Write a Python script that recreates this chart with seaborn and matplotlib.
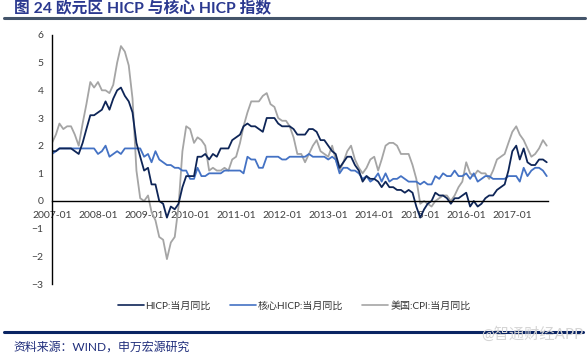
import numpy as np
import pandas as pd
import seaborn as sns
import matplotlib.pyplot as plt
import matplotlib.dates as mdates
from matplotlib.lines import Line2D

# monthly data, 2007-01 .. 2017-10
months = pd.date_range('2007-01-01', '2017-10-01', freq='MS')

hicp = [1.8, 1.8, 1.9, 1.9, 1.9, 1.9, 1.8, 1.7, 2.1, 2.6, 3.1, 3.1,
        3.2, 3.3, 3.6, 3.3, 3.7, 4.0, 4.1, 3.8, 3.6, 3.2, 2.1, 1.6,
        1.1, 1.2, 0.6, 0.6, 0.0, -0.1, -0.6, -0.2, -0.3, -0.1, 0.5, 0.9,
        0.9, 0.9, 1.6, 1.6, 1.7, 1.5, 1.7, 1.6, 1.9, 1.9, 1.9, 2.2,
        2.3, 2.4, 2.7, 2.8, 2.7, 2.7, 2.6, 2.5, 3.0, 3.0, 3.0, 2.8,
        2.7, 2.7, 2.7, 2.6, 2.4, 2.4, 2.4, 2.6, 2.6, 2.5, 2.2, 2.2,
        2.0, 1.8, 1.7, 1.2, 1.4, 1.6, 1.6, 1.3, 1.1, 0.7, 0.9, 0.8,
        0.8, 0.7, 0.5, 0.7, 0.5, 0.5, 0.4, 0.4, 0.3, 0.4, 0.3, -0.2,
        -0.6, -0.3, -0.1, 0.0, 0.3, 0.2, 0.2, 0.1, -0.1, 0.1, 0.1, 0.2,
        0.3, -0.2, 0.0, -0.2, -0.1, 0.1, 0.2, 0.2, 0.4, 0.5, 0.6, 1.1,
        1.8, 2.0, 1.5, 1.9, 1.4, 1.3, 1.3, 1.5, 1.5, 1.4]

core_hicp = [1.7, 1.8, 1.9, 1.9, 1.9, 1.9, 1.9, 1.9, 1.9, 1.9, 1.9, 1.9,
             1.7, 1.8, 2.0, 1.6, 1.7, 1.8, 1.7, 1.9, 1.9, 1.9, 1.9, 1.9,
             1.6, 1.7, 1.4, 1.8, 1.5, 1.4, 1.3, 1.3, 1.2, 1.2, 1.1, 1.1,
             0.8, 0.8, 1.2, 0.9, 0.9, 1.0, 1.0, 1.0, 1.0, 1.1, 1.1, 1.1,
             1.1, 1.1, 1.0, 1.6, 1.5, 1.5, 1.2, 1.2, 1.6, 1.6, 1.6, 1.6,
             1.5, 1.5, 1.6, 1.6, 1.6, 1.6, 1.6, 1.7, 1.6, 1.6, 1.6, 1.6,
             1.5, 1.6, 1.5, 1.0, 1.2, 1.2, 1.1, 1.1, 1.0, 0.8, 0.9, 0.7,
             0.8, 1.0, 0.7, 1.0, 0.7, 0.8, 0.8, 0.9, 0.8, 0.7, 0.7, 0.7,
             0.6, 0.7, 0.6, 0.6, 0.9, 0.8, 1.0, 0.9, 0.9, 1.1, 0.9, 0.9,
             1.0, 0.8, 1.0, 0.7, 0.8, 0.9, 0.9, 0.8, 0.8, 0.8, 0.8, 0.9,
             0.9, 0.9, 0.7, 1.2, 0.9, 1.1, 1.2, 1.2, 1.1, 0.9]

us_cpi = [2.1, 2.4, 2.8, 2.6, 2.7, 2.7, 2.4, 2.0, 2.8, 3.5, 4.3, 4.1,
          4.3, 4.0, 4.0, 3.9, 4.2, 5.0, 5.6, 5.4, 4.9, 3.7, 1.1, 0.1,
          0.0, 0.2, -0.4, -0.7, -1.3, -1.4, -2.1, -1.5, -1.3, -0.2, 1.8, 2.7,
          2.6, 2.1, 2.3, 2.2, 2.0, 1.1, 1.2, 1.1, 1.1, 1.2, 1.1, 1.5,
          1.6, 2.1, 2.7, 3.2, 3.6, 3.6, 3.6, 3.8, 3.9, 3.5, 3.4, 3.0,
          2.9, 2.9, 2.7, 2.3, 1.7, 1.7, 1.4, 1.7, 2.0, 2.2, 1.8, 1.7,
          1.6, 2.0, 1.5, 1.1, 1.4, 1.8, 2.0, 1.5, 1.2, 1.0, 1.2, 1.5,
          1.6, 1.1, 1.5, 2.0, 2.1, 2.1, 2.0, 1.7, 1.7, 1.7, 1.3, 0.8,
          -0.1, 0.0, -0.1, -0.2, 0.0, 0.1, 0.2, 0.2, 0.0, 0.2, 0.5, 0.7,
          1.4, 1.0, 0.9, 1.1, 1.0, 1.0, 0.8, 1.1, 1.5, 1.6, 1.7, 2.1,
          2.5, 2.7, 2.4, 2.2, 1.9, 1.6, 1.7, 1.9, 2.2, 2.0]

series_names = ['HICP:当月同比', '核心HICP:当月同比', '美国:CPI:当月同比']
colors = ['#0E2557', '#4472C4', '#A5A5A5']

title = '图 24 欧元区 HICP 与核心 HICP 指数'
source = '资料来源：WIND，申万宏源研究'

df = pd.DataFrame({'month': months,
                   series_names[0]: hicp,
                   series_names[1]: core_hicp,
                   series_names[2]: us_cpi})
long_df = df.melt(id_vars='month', var_name='series', value_name='value')

sns.set_style('white')
plt.rcParams['font.family'] = ['Lato', 'Noto Sans CJK SC', 'DejaVu Sans']

fig = plt.figure(figsize=(5.88, 3.54), dpi=100)
ax = fig.add_axes([52 / 588, 1 - 284 / 354, 496 / 588, 249 / 354])

# draw grey first so the euro lines sit on top
order = [series_names[2], series_names[1], series_names[0]]
for name in order:
    sub = long_df[long_df['series'] == name]
    sns.lineplot(data=sub, x='month', y='value', ax=ax,
                 color=colors[series_names.index(name)], linewidth=1.3,
                 legend=False)

ax.set_xlim(months[0], months[-1] + pd.Timedelta(days=10))
ax.set_ylim(-3, 6)
ax.set_yticks(range(-3, 7))
ax.set_xticks(pd.date_range('2007-01-01', '2017-01-01', freq='YS'))
ax.xaxis.set_major_formatter(mdates.DateFormatter('%Y-%m'))
ax.set_xlabel('')
ax.set_ylabel('')

for s in ['top', 'right']:
    ax.spines[s].set_visible(False)
ax.spines['bottom'].set_position(('data', 0))
for s in ['left', 'bottom']:
    ax.spines[s].set_color('black')
    ax.spines[s].set_linewidth(1.0)
ax.tick_params(axis='both', direction='out', length=4, width=0.8,
               colors='black', labelsize=7.5, pad=2)
ax.tick_params(axis='x', pad=3)
for lab in ax.get_xticklabels() + ax.get_yticklabels():
    lab.set_color('#404040')

handles = [Line2D([], [], color=c, linewidth=1.2) for c in colors]
fig.legend(handles, series_names, loc='center', ncol=3,
           bbox_to_anchor=(0.5, 1 - 306 / 354), frameon=False,
           fontsize=7.2, handlelength=2.6, handletextpad=0.2,
           columnspacing=1.9, labelcolor='#333333')

# header and footer
fig.text(14 / 588, 1 - 9 / 354, title, fontsize=11.3, fontweight='bold',
         color='#2B3990', va='center', ha='left')
fig.add_artist(Line2D([4 / 588, 585 / 588], [1 - 17.5 / 354] * 2,
                      color='#44546A', linewidth=2.2))
fig.add_artist(Line2D([4 / 588, 583 / 588], [1 - 332 / 354] * 2,
                      color='#0A2463', linewidth=2.2))
fig.text(13 / 588, 1 - 347 / 354, source, fontsize=8.6,
         color='#1F2D7B', va='center', ha='left')
fig.text(583 / 588, 1 - 334 / 354, '@智通财经APP', fontsize=11,
         color='#D5D5D5', va='center', ha='right')

fig.savefig('out.png', dpi=100)
